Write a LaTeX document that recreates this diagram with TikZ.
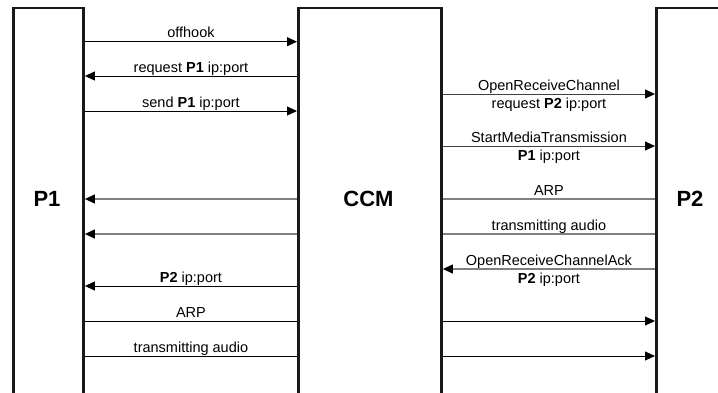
\documentclass[tikz,border=0pt]{standalone}
\usepackage{fontspec}
\setmainfont{Liberation Sans}
\usetikzlibrary{arrows.meta}
\begin{document}
\begin{tikzpicture}[x=1pt,y=-1pt,
  box/.style={draw=black!90, line width=2.9pt, anchor=north west, inner sep=0pt, minimum height=420pt},
  party/.style={font=\fontsize{22}{24}\selectfont\bfseries, inner sep=0pt},
  lbl/.style={font=\fontsize{14.5}{16}\selectfont, anchor=base, inner sep=0pt},
  above lbl/.style={lbl, midway, yshift=4pt},
  below lbl/.style={lbl, midway, yshift=-14pt},
  tip/.style={-{Triangle[length=10pt,width=9pt,color=black]}},
  msg/.style={draw=black, line width=0.9pt},
  dim/.style={draw=black!75, line width=0.9pt},
  faint/.style={draw=black!50, line width=1.1pt},
]
\useasboundingbox (0,0) rectangle (718,392);
\clip (0,0) rectangle (718,392);

% the three parties, open at the bottom
\node[box, minimum width=70pt]  (p1)  at (12,6.5)  {};
\node[box, minimum width=143pt] (ccm) at (297,6.5) {};
\node[box, minimum width=70pt]  (p2)  at (655,6.5) {};
\node[party] (p1l)  at (47,199)    {P1};
\node[party] (ccml) at (368.5,199) {CCM};
\node[party] (p2l)  at (690,199)   {P2};

% P1 <-> CCM
\draw[msg, tip] (p1.east |- 0,41.7) -- (ccm.west |- 0,41.7)
  node[above lbl] {offhook};
\draw[msg, tip] (ccm.west |- 0,76) -- (p1.east |- 0,76)
  node[above lbl] {request \textbf{P1} ip:port};
\draw[msg, tip] (p1.east |- 0,111) -- (ccm.west |- 0,111)
  node[above lbl] {send \textbf{P1} ip:port};
\draw[faint, tip] (ccm.west |- 0,199) -- (p1.east |- 0,199);
\draw[faint, tip] (ccm.west |- 0,234) -- (p1.east |- 0,234);
\draw[msg, tip] (ccm.west |- 0,286) -- (p1.east |- 0,286)
  node[above lbl] {\textbf{P2} ip:port};
\draw[msg] (p1.east |- 0,321) -- (ccm.west |- 0,321)
  node[above lbl] {ARP};
\draw[msg] (p1.east |- 0,356) -- (ccm.west |- 0,356)
  node[above lbl] {transmitting audio};

% CCM <-> P2
\draw[dim, tip] (ccm.east |- 0,94) -- (p2.west |- 0,94)
  node[above lbl] {OpenReceiveChannel}
  node[below lbl] {request \textbf{P2} ip:port};
\draw[dim, tip] (ccm.east |- 0,146) -- (p2.west |- 0,146)
  node[above lbl] {StartMediaTransmission}
  node[below lbl] {\textbf{P1} ip:port};
\draw[faint] (ccm.east |- 0,199) -- (p2.west |- 0,199)
  node[above lbl] {ARP};
\draw[faint] (ccm.east |- 0,234) -- (p2.west |- 0,234)
  node[above lbl] {transmitting audio};
\draw[faint, tip] (p2.west |- 0,269) -- (ccm.east |- 0,269)
  node[above lbl] {OpenReceiveChannelAck}
  node[below lbl] {\textbf{P2} ip:port};
\draw[msg, tip] (ccm.east |- 0,321) -- (p2.west |- 0,321);
\draw[msg, tip] (ccm.east |- 0,356) -- (p2.west |- 0,356);
\end{tikzpicture}
\end{document}
